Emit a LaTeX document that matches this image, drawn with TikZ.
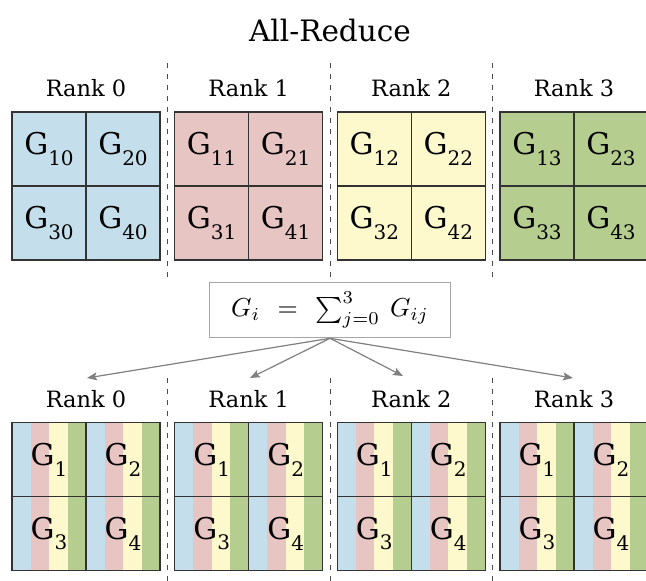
\documentclass[tikz,border=0pt]{standalone}
\usepackage{graphicx}
\usepackage{fontspec}
\setmainfont{DejaVu Serif}
\usetikzlibrary{arrows.meta}

\definecolor{rkblue}{RGB}{196,222,235}
\definecolor{rkred}{RGB}{231,197,194}
\definecolor{rkyellow}{RGB}{253,249,204}
\definecolor{rkgreen}{RGB}{181,206,144}

% G with a large dropped index
\newcommand{\gidx}[1]{G\raisebox{-10.5pt}{\fontsize{20}{20}\selectfont #1}}

\tikzset{
  cell/.style={draw=black!80,line width=1.2pt,minimum size=74pt,inner sep=0pt,
    font=\fontsize{30}{30}\selectfont},
  ranklab/.style={anchor=base,font=\fontsize{22.5}{22.5}\selectfont},
  rankline/.style={draw=black!70,line width=1pt,dash pattern=on 5pt off 6pt},
}

\begin{document}
\begin{tikzpicture}[x=1pt,y=-1pt,>={Stealth[length=10pt,width=8pt,inset=2pt]}]
\useasboundingbox (0,0) rectangle (646,581);

\node[anchor=base,font=\fontsize{29.5}{29.5}\selectfont] (title) at (330,41) {All-Reduce};

% dashed separators between the ranks
\foreach \x in {167.3,330,492.7}{
  \draw[rankline] (\x,63) -- (\x,278);
  \draw[rankline] (\x,378) -- (\x,581);
}

% before: rank r holds G_{ir}
\foreach \r/\c/\x in {0/rkblue/12,1/rkred/174.7,2/rkyellow/337.3,3/rkgreen/500}{
  \node[ranklab] (top\r) at (\x+74,96) {Rank \r};
  \foreach \i/\dx/\dy in {1/0/0,2/74/0,3/0/74,4/74/74}
    \node[cell,fill=\c] (t\r\i) at (\x+37+\dx,149+\dy) {\gidx{\i\r}};
}

\node[draw=black!35,line width=1.2pt,minimum width=241.4pt,minimum height=55.4pt]
  (sum) at (330,310)
  {\scalebox{2.6}{$G_i\mkern7mu=\mkern7mu\sum_{j=0}^{3}\mkern4mu G_{ij}$}};

% after: every rank holds the summed blocks
\foreach \r/\x in {0/12,1/174.7,2/337.3,3/500}{
  \node[ranklab] (bot\r) at (\x+74,407) {Rank \r};
  \foreach \i/\dx/\dy in {1/0/0,2/74/0,3/0/74,4/74/74}{
    \foreach \c [count=\k from 0] in {rkblue,rkred,rkyellow,rkgreen}
      \fill[\c] (\x+\dx+18.5*\k,422.7+\dy) rectangle ++(18.5,74);
    \node[cell] (b\r\i) at (\x+37+\dx,459.7+\dy) {\gidx{\i}};
  }
}

\coordinate (tip0) at (87,378);
\coordinate (tip1) at (250,378);
\coordinate (tip2) at (403,376);
\coordinate (tip3) at (573,378);
\foreach \k in {0,...,3}
  \draw[->,black!50,line width=1.2pt] (sum.south) -- (tip\k);
\end{tikzpicture}
\end{document}
